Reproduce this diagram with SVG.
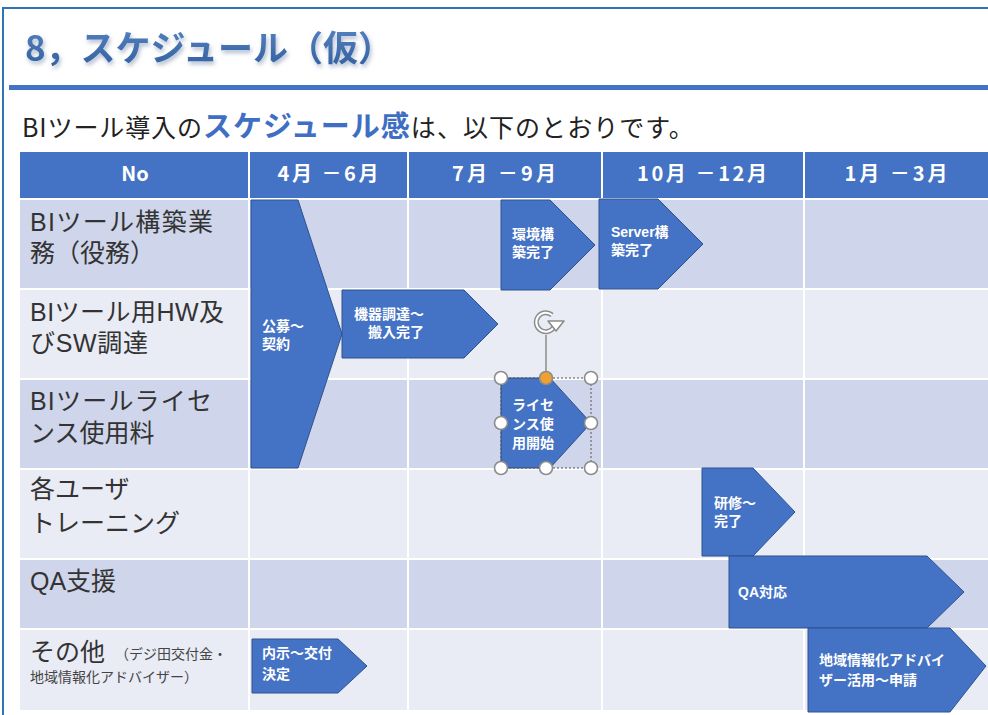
<svg xmlns="http://www.w3.org/2000/svg" width="988" height="715" viewBox="0 0 988 715">
<style>
  .jp { font-family: "Noto Sans CJK JP", "Noto Sans", sans-serif; }
  .lbl { font-family: "Liberation Sans", "Noto Sans CJK JP", sans-serif; font-size: 25px; fill: #333333; }
  .small { font-family: "Liberation Sans", "Noto Sans CJK JP", sans-serif; font-size: 14px; fill: #444444; }
  .hdr { font-family: "Noto Sans CJK JP", "Noto Sans", sans-serif; font-size: 20px; font-weight: 700; fill: #ffffff; }
  .arrow { fill: #4472C4; stroke: #2F528F; stroke-width: 1; }
  .at { font-family: "Liberation Sans", "Noto Sans CJK JP", sans-serif; font-size: 14px; font-weight: 700; fill: #ffffff; }
  .dark { fill: #CFD5EA; }
  .light { fill: #E9EBF5; }
  .handle { fill: #ffffff; stroke: #8C8C8C; stroke-width: 1.6; }
</style>
<defs>
  <filter id="sh" x="-5%" y="-20%" width="110%" height="150%">
    <feDropShadow dx="1.5" dy="3" stdDeviation="2" flood-color="#7f93b0" flood-opacity="0.6"/>
  </filter>
  <linearGradient id="tg" x1="0" y1="0" x2="0" y2="1">
    <stop offset="0" stop-color="#5B86C4"/>
    <stop offset="1" stop-color="#2F5E9E"/>
  </linearGradient>
</defs>
<rect x="0" y="0" width="988" height="715" fill="#ffffff"/>
<rect x="3" y="8" width="1000" height="720" fill="none" stroke="#2E75B6" stroke-width="2"/>

<g id="title">
  <text class="jp" x="25" y="61" font-size="35" font-weight="700" fill="url(#tg)" filter="url(#sh)" textLength="368">8，スケジュール（仮）</text>
  <rect x="9" y="85" width="979" height="5" fill="#4472C4"/>
</g>

<g id="subtitle">
  <text class="jp" x="22" y="137" font-size="25" fill="#222222"><tspan textLength="180">BIツール導入の</tspan><tspan font-size="29" font-weight="700" fill="#3F6FC2" textLength="207">スケジュール感</tspan><tspan textLength="283">は、以下のとおりです。</tspan></text>
</g>

<g id="table">
  <rect x="20" y="152" width="968" height="46" fill="#4472C4"/>
  <rect class="dark" x="20" y="200" width="968" height="88"/>
  <rect class="light" x="20" y="290" width="968" height="88"/>
  <rect class="dark" x="20" y="380" width="968" height="88"/>
  <rect class="light" x="20" y="470" width="968" height="88"/>
  <rect class="dark" x="20" y="560" width="968" height="68"/>
  <rect class="light" x="20" y="630" width="968" height="80"/>
  <g stroke="#ffffff" stroke-width="2">
    <line x1="249" y1="152" x2="249" y2="710"/>
    <line x1="408" y1="152" x2="408" y2="710"/>
    <line x1="602" y1="152" x2="602" y2="710"/>
    <line x1="804" y1="152" x2="804" y2="710"/>
  </g>
  <text class="hdr" x="135" y="181" text-anchor="middle">No</text>
  <text class="hdr" x="328" y="181" text-anchor="middle" textLength="101">4月 －6月</text>
  <text class="hdr" x="504" y="181" text-anchor="middle" textLength="104">7月 －9月</text>
  <text class="hdr" x="702" y="181" text-anchor="middle" textLength="130">10月 －12月</text>
  <text class="hdr" x="896" y="181" text-anchor="middle" textLength="103">1月 －3月</text>

  <text class="lbl" x="30" y="231" textLength="183">BIツール構築業</text>
  <text class="lbl" x="30" y="262">務（役務）</text>
  <text class="lbl" x="30" y="321" textLength="194">BIツール用HW及</text>
  <text class="lbl" x="30" y="352" textLength="118">びSW調達</text>
  <text class="lbl" x="30" y="410" textLength="182">BIツールライセ</text>
  <text class="lbl" x="30" y="442">ンス使用料</text>
  <text class="lbl" x="30" y="498">各ユーザ</text>
  <text class="lbl" x="30" y="532">トレーニング</text>
  <text class="lbl" x="30" y="590">QA支援</text>
  <text class="lbl" x="30" y="661" font-size="27">その他</text>
  <text class="small" x="115" y="659">（デジ田交付金・</text>
  <text class="small" x="30" y="682">地域情報化アドバイザー）</text>
</g>

<g id="n-koubo">
  <path class="arrow" d="M251,200 H298 L342,334 L298,468 H251 Z"/>
  <text class="at" x="262" y="331">公募〜</text>
  <text class="at" x="262" y="349">契約</text>
</g>
<g id="n-kiki">
  <path class="arrow" d="M342,290 H464 L498,324 L464,358 H342 Z"/>
  <text class="at" x="354" y="319">機器調達〜</text>
  <text class="at" x="368" y="337">搬入完了</text>
</g>
<g id="n-kankyo">
  <path class="arrow" d="M501,200 H550 L595,245 L550,290 H501 Z"/>
  <text class="at" x="512" y="239">環境構</text>
  <text class="at" x="512" y="257">築完了</text>
</g>
<g id="n-server">
  <path class="arrow" d="M599,199 H658 L703,244 L658,289 H599 Z"/>
  <text class="at" x="611" y="237">Server構</text>
  <text class="at" x="611" y="255">築完了</text>
</g>
<g id="n-license">
  <path class="arrow" d="M501,378 H550 L591,423 L550,468 H501 Z"/>
  <text class="at" x="512" y="410">ライセ</text>
  <text class="at" x="512" y="429">ンス使</text>
  <text class="at" x="512" y="448">用開始</text>
</g>
<g id="n-kenshu">
  <path class="arrow" d="M702,468 H753 L795,512 L753,556 H702 Z"/>
  <text class="at" x="714" y="508" font-size="13">研修〜</text>
  <text class="at" x="714" y="526" font-size="13">完了</text>
</g>
<g id="n-qa">
  <path class="arrow" d="M729,556 H927 L964,592 L927,628 H729 Z"/>
  <text class="at" x="738" y="597" font-size="13">QA対応</text>
</g>
<g id="n-chiiki">
  <path class="arrow" d="M808,628 H950 L986,666 L950,712 H808 Z"/>
  <text class="at" x="819" y="665" font-size="15">地域情報化アドバイ</text>
  <text class="at" x="819" y="685" font-size="15">ザー活用〜申請</text>
</g>
<g id="n-naiji">
  <path class="arrow" d="M252,639 H338 L367,666 L338,693 H252 Z"/>
  <text class="at" x="262" y="658" font-size="15">内示〜交付</text>
  <text class="at" x="262" y="679" font-size="15">決定</text>
</g>

<g id="connectors">
  <line x1="546" y1="335" x2="546" y2="372" stroke="#8C8C8C" stroke-width="1.5"/>
</g>

<g id="selection">
  <rect x="501" y="378" width="90" height="90" fill="none" stroke="#555555" stroke-width="1" stroke-dasharray="2,2"/>
  <path d="M552,315 A9.5,9.5 0 1 0 554,327" fill="none" stroke="#8C8C8C" stroke-width="5"/>
  <path d="M552,315 A9.5,9.5 0 1 0 554,327" fill="none" stroke="#ffffff" stroke-width="2"/>
  <path d="M548,321 L564,321 L556,331 Z" fill="#ffffff" stroke="#8C8C8C" stroke-width="1.6" stroke-linejoin="round"/>
  <circle class="handle" cx="501" cy="378" r="6.5"/>
  <circle cx="546" cy="378" r="6.5" fill="#F0A030" stroke="#8C8C8C" stroke-width="1.6"/>
  <circle class="handle" cx="591" cy="378" r="6.5"/>
  <circle class="handle" cx="501" cy="423" r="6.5"/>
  <circle class="handle" cx="591" cy="423" r="6.5"/>
  <circle class="handle" cx="501" cy="468" r="6.5"/>
  <circle class="handle" cx="546" cy="468" r="6.5"/>
  <circle class="handle" cx="591" cy="468" r="6.5"/>
</g>
</svg>
